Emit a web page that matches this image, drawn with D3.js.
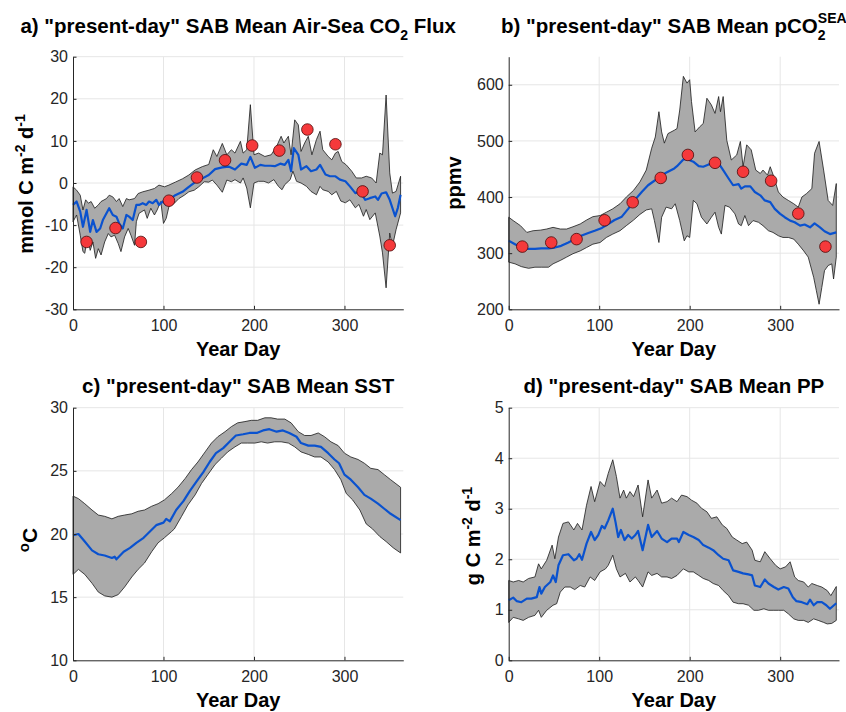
<!DOCTYPE html>
<html>
<head>
<meta charset="utf-8">
<script src="https://cdn.jsdelivr.net/npm/d3@7"></script>
<style>
  body { margin: 0; background: #fff; }
  svg { font-family: "Liberation Sans", Arial, Helvetica, sans-serif; }
</style>
</head>
<body>
<script>
//************************************************************
// Data: [year day, value] pairs
//************************************************************
var xTicks = [0, 100, 200, 300];

// a) air-sea CO2 flux (mmol C m-2 d-1)
var fluxMean = [[0,-5.2],[4,-4.4],[8,-6.8],[11,-10.4],[15,-6.4],[19,-11.6],[22,-8.8],[26,-11.6],[30,-10.8],[33,-8.8],[37,-7.2],[40,-6],[44,-7.6],[48,-8],[51,-9.6],[55,-10.8],[59,-7.6],[62,-8],[66,-8.8],[70,-5.2],[73,-5.2],[77,-4.8],[81,-5.2],[84,-4.4],[88,-4.8],[92,-4],[95,-5.2],[99,-4.4],[103,-5.2],[106,-4],[113,-2.9],[121,-2.1],[128,-0.9],[135,0.2],[143,1.1],[150,1.9],[157,3.3],[165,3.7],[172,3.9],[179,3.2],[186,4.6],[192,4.3],[196,6.2],[201,3.6],[207,4.3],[212,4.1],[218,4.1],[223,4],[229,4.6],[234,4.3],[238,5.5],[241,2.8],[244,8.3],[249,6.7],[252,3.2],[258,4],[263,2.8],[269,3.2],[273,4.3],[279,2],[284,1.6],[290,1.6],[295,0.8],[301,0.4],[306,-0.8],[312,-2.4],[317,-2],[323,-4],[328,-3.6],[334,-3.2],[337,-4],[341,-2.5],[346,-2.2],[350,-4],[356,-7.9],[359,-5.9],[362,-2.8]];
var fluxUpper = [[0,-0.9],[4,-1.7],[8,-2.9],[11,-6.4],[14,-4],[17,-4.8],[20,-4.4],[24,-6],[28,-5.2],[31,-4.4],[37,-3.7],[40,-2.9],[44,-3.3],[48,-4.4],[51,-3.7],[55,-5.6],[59,-3.7],[62,-4],[68,-3.7],[72,-2.5],[77,-2.1],[84,-1.7],[90,-1.3],[95,-0.5],[101,-0.9],[106,-0.5],[113,0.2],[121,1],[128,1.9],[135,3.1],[143,3.9],[150,4.4],[155,7.9],[159,6.3],[165,9.4],[170,6.7],[175,7.9],[179,7.1],[185,9.9],[188,7.1],[192,7.9],[196,18.6],[200,6.7],[205,7.1],[212,6.3],[219,6.7],[225,8.7],[230,11.1],[233,9.5],[238,11.1],[241,6.7],[245,15],[249,13.8],[252,7.5],[256,9.5],[260,11.1],[264,6.7],[269,10.3],[273,12.3],[276,7.9],[282,6.3],[286,5.5],[290,7.1],[293,7.5],[297,5.1],[302,4.3],[308,2.8],[313,1.2],[319,1.2],[324,1.6],[330,1.2],[335,0],[339,7.1],[342,6.7],[346,20.9],[350,2.4],[353,-2.4],[357,-2],[362,1.6]];
var fluxLower = [[0,-9.2],[4,-7.6],[8,-12.4],[11,-16.3],[13,-16.7],[16,-12.8],[19,-16],[22,-14],[25,-17.9],[28,-15.6],[31,-17.1],[35,-14],[39,-12],[42,-12.8],[46,-12.4],[50,-14.4],[53,-16.3],[57,-12.8],[61,-10.8],[64,-12.4],[68,-14.8],[70,-9.2],[73,-7.2],[79,-6.4],[82,-8.4],[86,-6],[90,-7.6],[93,-6.4],[97,-4.4],[100,-9.6],[103,-8.4],[106,-5.6],[112,-4.8],[117,-3.7],[123,-2.9],[128,-2.1],[134,-1.7],[139,-0.9],[145,0.3],[150,0.2],[154,0.7],[159,-0.5],[165,-2.2],[170,0.7],[175,0.3],[179,0.8],[185,0],[188,1.2],[192,-1.2],[196,-5.9],[200,0],[205,0.4],[211,0.4],[216,0],[222,0.8],[227,-0.8],[231,-1.6],[234,-0.4],[240,0.8],[243,2.8],[247,0.4],[252,0],[258,-0.8],[263,-2],[269,-2.8],[273,-0.8],[276,-1.6],[282,-2],[286,-2.8],[291,-2],[296,-4.3],[301,-4.7],[306,-4],[312,-5.9],[316,-5.1],[321,-7.9],[324,-6.3],[328,-8.7],[334,-7.1],[339,-12.6],[342,-16.6],[346,-24.9],[350,-11.9],[353,-15],[357,-11.1],[362,-7.1]];

// monthly observations (same days for a and b)
var obsDays = [15, 47, 75, 106, 137, 168, 198, 228, 259, 290, 320, 350];
var fluxObs = [-14, -10.7, -14, -4.2, 1.3, 5.4, 8.9, 7.7, 12.7, 9.2, -2, -14.8];
var pco2Obs = [311.7, 319, 325, 358.6, 390.7, 434, 475, 461, 445, 429, 370.5, 311.7];

// b) seawater pCO2 (ppmv)
var pco2Mean = [[0,322],[7,316],[14,310],[22,307.5],[29,307.5],[36,308.7],[44,308.7],[51,310],[58,313],[66,319],[73,325],[80,331],[88,336],[95,340],[103,345],[110,352],[117,359],[125,365],[132,379],[139,394],[147,409],[154,421],[161,429],[169,439],[176,445],[183,451],[186,455],[193,467],[198,467],[204,463],[210,455],[215,454],[221,458],[226,463],[232,460],[237,448],[243,433],[248,421],[254,423],[257,415],[261,419],[267,419],[272,409],[278,403],[283,394],[289,391],[294,379],[300,370],[305,364],[311,358],[316,355],[322,349],[327,351],[333,346],[338,353],[344,346],[349,339],[355,334],[362,337]];
var pco2Upper = [[0,364],[5,358],[13,349],[20,337],[27,340],[35,341],[42,343],[49,346],[57,343],[64,343],[71,347],[79,352],[86,359],[93,365],[101,367],[108,373],[115,379],[123,388],[130,400],[138,412],[145,427],[152,448],[158,487],[162,507],[166,552],[169,516],[172,496],[176,513],[183,519],[186,522],[189,555],[193,615],[197,603],[200,609],[202,570],[206,516],[211,525],[215,531],[219,576],[224,564],[228,549],[232,579],[234,552],[237,579],[241,501],[246,466],[252,475],[256,499],[259,454],[263,493],[268,484],[273,448],[278,442],[281,448],[286,439],[289,454],[293,436],[298,409],[303,400],[309,394],[315,388],[320,382],[324,400],[329,406],[335,415],[338,478],[343,499],[348,448],[353,394],[358,385],[362,424]];
var pco2Lower = [[0,284],[7,281],[14,276],[22,273],[29,275],[36,275],[44,275],[49,281],[57,287],[64,293],[71,299],[79,304],[86,310],[93,316],[101,319],[108,328],[115,334],[123,340],[130,349],[138,359],[145,369],[152,377],[158,379],[161,358],[166,319],[169,364],[174,382],[180,379],[184,388],[189,358],[194,322],[197,331],[200,328],[204,394],[208,388],[213,364],[219,352],[224,364],[228,373],[232,346],[235,334],[239,385],[244,382],[250,370],[254,352],[257,349],[261,367],[265,349],[270,358],[276,355],[281,349],[287,340],[292,337],[298,331],[303,328],[309,328],[315,325],[320,316],[326,304],[331,293],[337,257],[340,233],[343,209],[346,239],[349,269],[353,278],[357,281],[359,254],[362,293]];

// c) SST (deg C)
var sstMean = [[0,19.9],[6,20],[13,19.4],[21,18.7],[28,18.4],[35,18.3],[43,18.1],[46,18.2],[48,18],[56,18.6],[63,18.9],[70,19.3],[78,19.7],[85,20.2],[92,20.7],[100,20.9],[103,21.2],[107,21],[114,21.9],[122,22.6],[129,23.4],[136,24.1],[144,24.9],[151,25.7],[158,26.4],[166,26.8],[173,27.3],[180,27.8],[188,27.9],[195,28],[203,28],[210,28.2],[217,28.3],[225,28.1],[232,28.2],[239,28],[247,27.7],[252,27.2],[260,27],[267,27],[274,26.9],[282,26.4],[289,25.9],[294,25.6],[300,24.7],[307,24.3],[315,23.7],[322,23.1],[329,22.8],[337,22.4],[344,22],[351,21.6],[362,21.1]];
var sstUpper = [[0,23],[6,22.8],[13,22.4],[21,21.9],[28,21.5],[35,21.4],[43,21.2],[50,21.4],[57,21.5],[65,21.6],[72,21.8],[79,21.9],[87,22.2],[94,22.4],[101,22.7],[109,23.2],[116,23.7],[124,24.4],[131,25.1],[138,25.7],[146,26.5],[153,27.2],[160,27.7],[168,28.1],[175,28.5],[182,28.8],[190,28.9],[197,29],[204,29],[212,29.2],[219,29.2],[226,29.1],[234,29.1],[241,28.8],[249,28.1],[256,27.8],[263,27.8],[271,28],[278,27.7],[285,27.3],[293,27],[300,26.4],[307,26.1],[315,25.9],[322,25.6],[329,25.2],[337,25.1],[344,24.7],[351,24.3],[362,23.7]];
var sstLower = [[0,16.8],[6,17.2],[13,16.8],[21,16.1],[28,15.4],[35,15.1],[43,15],[50,15.2],[57,15.8],[65,16.6],[72,17.2],[79,17.7],[87,18.6],[94,19.3],[101,19.7],[109,20.2],[112,20.4],[120,21.4],[127,22.3],[135,23.1],[142,24],[149,24.7],[157,25.5],[164,26],[171,26.5],[179,26.9],[186,27.2],[193,27.2],[201,27.2],[208,27.3],[215,27.2],[223,27.3],[230,27.3],[238,27.2],[245,26.9],[252,26.5],[260,26.3],[267,26.1],[274,26.1],[282,25.7],[289,25.1],[296,24.3],[302,23.2],[309,22.7],[317,21.9],[324,20.8],[331,20.4],[339,19.8],[346,19.4],[354,18.9],[362,18.5]];

// d) primary production (g C m-2 d-1)
var ppMean = [[0,1.19],[5,1.24],[9,1.17],[14,1.15],[20,1.22],[25,1.22],[31,1.25],[34,1.45],[36,1.32],[40,1.45],[46,1.55],[49,1.68],[52,1.55],[55,1.88],[60,2.08],[66,2.1],[72,1.98],[75,2.01],[78,2.1],[81,1.99],[86,2.31],[91,2.54],[95,2.38],[99,2.48],[103,2.66],[106,2.61],[110,2.77],[115,3],[118,2.74],[121,2.44],[124,2.58],[128,2.38],[132,2.48],[136,2.41],[140,2.48],[143,2.56],[148,2.18],[154,2.68],[158,2.44],[164,2.56],[169,2.41],[175,2.34],[180,2.41],[186,2.41],[188,2.34],[193,2.54],[199,2.48],[204,2.44],[210,2.38],[215,2.28],[221,2.23],[226,2.18],[232,2.08],[237,2.01],[243,1.98],[248,1.78],[254,1.75],[259,1.72],[265,1.7],[269,1.68],[272,1.48],[278,1.45],[283,1.6],[287,1.52],[293,1.45],[298,1.4],[304,1.45],[309,1.42],[314,1.25],[318,1.17],[324,1.15],[330,1.11],[333,1.2],[337,1.09],[341,1.15],[346,1.15],[351,1.09],[355,1.02],[362,1.13]];
var ppUpper = [[0,1.58],[5,1.55],[11,1.58],[16,1.55],[22,1.62],[29,1.65],[33,1.91],[36,1.81],[42,1.98],[48,2.28],[51,2.01],[55,2.44],[60,2.71],[66,2.74],[72,2.58],[76,2.71],[81,2.58],[86,3.07],[91,3.44],[95,3.14],[101,3.54],[106,3.44],[110,3.7],[115,3.97],[119,3.64],[123,3.21],[127,3.37],[130,3.21],[134,3.34],[138,3.24],[143,3.47],[148,2.84],[154,3.57],[158,3.21],[164,3.37],[169,3.11],[175,3.14],[180,3.21],[186,3.14],[191,3.27],[197,3.24],[202,3.17],[208,3.11],[213,3.01],[219,2.94],[224,2.81],[230,2.84],[236,2.68],[241,2.61],[247,2.44],[252,2.38],[258,2.31],[263,2.34],[269,2.18],[272,1.98],[278,1.95],[283,2.15],[289,2.01],[295,1.88],[300,1.81],[306,1.85],[311,1.95],[316,1.65],[320,1.58],[326,1.55],[331,1.45],[335,1.52],[341,1.48],[346,1.45],[352,1.38],[356,1.28],[362,1.46]];
var ppLower = [[0,0.75],[5,0.85],[11,0.82],[16,0.79],[22,0.85],[29,0.89],[33,0.99],[36,0.85],[42,0.99],[49,1.09],[53,1.12],[57,1.35],[62,1.45],[68,1.45],[73,1.4],[79,1.48],[84,1.45],[90,1.65],[95,1.58],[101,1.75],[107,1.81],[110,1.88],[115,2.08],[119,1.81],[123,1.65],[129,1.72],[134,1.55],[140,1.65],[143,1.58],[148,1.45],[154,1.75],[158,1.68],[164,1.72],[169,1.65],[175,1.65],[180,1.62],[186,1.68],[193,1.81],[199,1.75],[204,1.75],[210,1.68],[215,1.62],[221,1.58],[226,1.52],[232,1.48],[237,1.38],[243,1.28],[248,1.15],[254,1.12],[259,1.12],[265,1.09],[271,0.99],[276,0.99],[282,1.02],[287,0.99],[293,0.99],[298,0.99],[304,0.99],[309,0.92],[315,0.82],[320,0.79],[326,0.79],[331,0.75],[337,0.82],[342,0.79],[348,0.75],[352,0.72],[357,0.73],[362,0.79]];

//************************************************************
// Layout
//************************************************************
const W = 846, H = 712;
const plotW = 330.3, plotH = 252.6;
const bandFill = "#aaaaaa", meanColor = "#0a52cf", axisColor = "#262626";

const svg = d3.select("body").append("svg")
  .attr("width", W)
  .attr("height", H);

function drawPanel(o) {
  const xScale = d3.scaleLinear().domain([0, 365]).range([o.left, o.left + plotW]);
  const yScale = d3.scaleLinear().domain(o.yDomain).range([o.top + plotH, o.top]);
  const g = svg.append("g");

  // grid
  g.selectAll(".gx").data(xTicks.filter(d => d > 0)).join("line")
    .attr("x1", d => xScale(d)).attr("x2", d => xScale(d))
    .attr("y1", yScale.range()[0]).attr("y2", yScale.range()[1])
    .attr("stroke", "#e6e6e6").attr("stroke-width", 1);
  g.selectAll(".gy").data(o.yTicks.filter(d => d > o.yDomain[0])).join("line")
    .attr("x1", xScale.range()[0]).attr("x2", xScale.range()[1])
    .attr("y1", d => yScale(d)).attr("y2", d => yScale(d))
    .attr("stroke", "#e6e6e6").attr("stroke-width", 1);

  // spread band (upper forward, lower back)
  const line = d3.line()
    .x(d => xScale(d[0]))
    .y(d => yScale(d[1]));
  const ring = o.upper.concat(o.lower.slice().reverse());
  g.append("path")
    .attr("d", line(ring) + "Z")
    .attr("fill", bandFill)
    .attr("stroke", "#1a1a1a")
    .attr("stroke-width", 0.8)
    .attr("stroke-linejoin", "round");

  // mean
  g.append("path")
    .attr("d", line(o.mean))
    .attr("fill", "none")
    .attr("stroke", meanColor)
    .attr("stroke-width", 2.2)
    .attr("stroke-linejoin", "round");

  // observations
  if (o.obs) {
    g.selectAll(".obs").data(obsDays.map((d, i) => [d, o.obs[i]])).join("circle")
      .attr("cx", d => xScale(d[0]))
      .attr("cy", d => yScale(d[1]))
      .attr("r", 5.8)
      .attr("fill", "#f5393b")
      .attr("stroke", "#4a0a0a")
      .attr("stroke-width", 0.8);
  }

  // axes
  const fmt = d => String(d);
  const xAxis = d3.axisBottom(xScale).tickValues(xTicks).tickFormat(fmt)
    .tickSizeInner(-3.5).tickSizeOuter(0).tickPadding(10);
  const yAxis = d3.axisLeft(yScale).tickValues(o.yTicks).tickFormat(fmt)
    .tickSizeInner(-3.5).tickSizeOuter(0).tickPadding(5);
  const ax = g.append("g")
    .attr("transform", "translate(0," + yScale.range()[0] + ")")
    .call(xAxis);
  const ay = g.append("g")
    .attr("transform", "translate(" + xScale.range()[0] + ",0)")
    .call(yAxis);
  [ax, ay].forEach(a => {
    a.select(".domain").attr("stroke", axisColor).attr("stroke-width", 1);
    a.selectAll(".tick line").attr("stroke", axisColor);
    a.selectAll(".tick text")
      .attr("fill", axisColor)
      .style("font-size", "16px")
      .style("font-family", "'Liberation Sans', Arial, sans-serif");
  });

  // x label
  g.append("text")
    .attr("x", (xScale.range()[0] + xScale.range()[1]) / 2)
    .attr("y", yScale.range()[0] + 47)
    .attr("text-anchor", "middle")
    .style("font-size", "20px").style("font-weight", "bold")
    .text("Year Day");

  // y label
  const yl = g.append("text")
    .attr("transform", "translate(" + o.yLabelX + "," + o.yLabelY + ") rotate(-90)")
    .attr("text-anchor", "middle")
    .style("font-size", "20px").style("font-weight", "bold");
  o.yLabel(yl);

  // title
  const t = g.append("text")
    .attr("x", (xScale.range()[0] + xScale.range()[1]) / 2)
    .attr("y", o.titleY)
    .attr("text-anchor", "middle")
    .style("font-size", "20.5px").style("font-weight", "bold");
  o.title(t);
}

drawPanel({
  left: 73, top: 56.7, yDomain: [-30, 30], yTicks: [-30, -20, -10, 0, 10, 20, 30],
  mean: fluxMean, upper: fluxUpper, lower: fluxLower, obs: fluxObs,
  titleY: 33, yLabelX: 33, yLabelY: 184,
  yLabel: s => {
    s.append("tspan").text("mmol C m");
    s.append("tspan").attr("dy", -8).style("font-size", "14px").text("-2");
    s.append("tspan").attr("dy", 8).text(" d");
    s.append("tspan").attr("dy", -8).style("font-size", "14px").text("-1");
  },
  title: s => {
    s.append("tspan").text('a) "present-day" SAB Mean Air-Sea CO');
    s.append("tspan").attr("dy", 7).style("font-size", "14px").text("2");
    s.append("tspan").attr("dy", -7).text(" Flux");
  }
});

drawPanel({
  left: 508.7, top: 56.7, yDomain: [200, 650], yTicks: [200, 300, 400, 500, 600],
  mean: pco2Mean, upper: pco2Upper, lower: pco2Lower, obs: pco2Obs,
  titleY: 33, yLabelX: 461, yLabelY: 183,
  yLabel: s => s.text("ppmv"),
  title: s => {
    s.append("tspan").text('b) "present-day" SAB Mean pCO');
    s.append("tspan").attr("dy", 7).style("font-size", "14px").text("2");
    s.append("tspan").attr("dx", -7.8).attr("dy", -17).style("font-size", "14px").text("SEA");
  }
});

drawPanel({
  left: 73, top: 407.7, yDomain: [10, 30], yTicks: [10, 15, 20, 25, 30],
  mean: sstMean, upper: sstUpper, lower: sstLower,
  titleY: 393, yLabelX: 37, yLabelY: 540,
  yLabel: s => {
    s.append("tspan").attr("dy", -8).style("font-size", "15px").text("o");
    s.append("tspan").attr("dy", 8).style("font-size", "21px").text("C");
  },
  title: s => s.text('c) "present-day" SAB Mean SST')
});

drawPanel({
  left: 508.7, top: 407.7, yDomain: [0, 5], yTicks: [0, 1, 2, 3, 4, 5],
  mean: ppMean, upper: ppUpper, lower: ppLower,
  titleY: 393, yLabelX: 480, yLabelY: 536,
  yLabel: s => {
    s.append("tspan").text("g C m");
    s.append("tspan").attr("dy", -8).style("font-size", "14px").text("-2");
    s.append("tspan").attr("dy", 8).text(" d");
    s.append("tspan").attr("dy", -8).style("font-size", "14px").text("-1");
  },
  title: s => s.text('d) "present-day" SAB Mean PP')
});
</script>
</body>
</html>
